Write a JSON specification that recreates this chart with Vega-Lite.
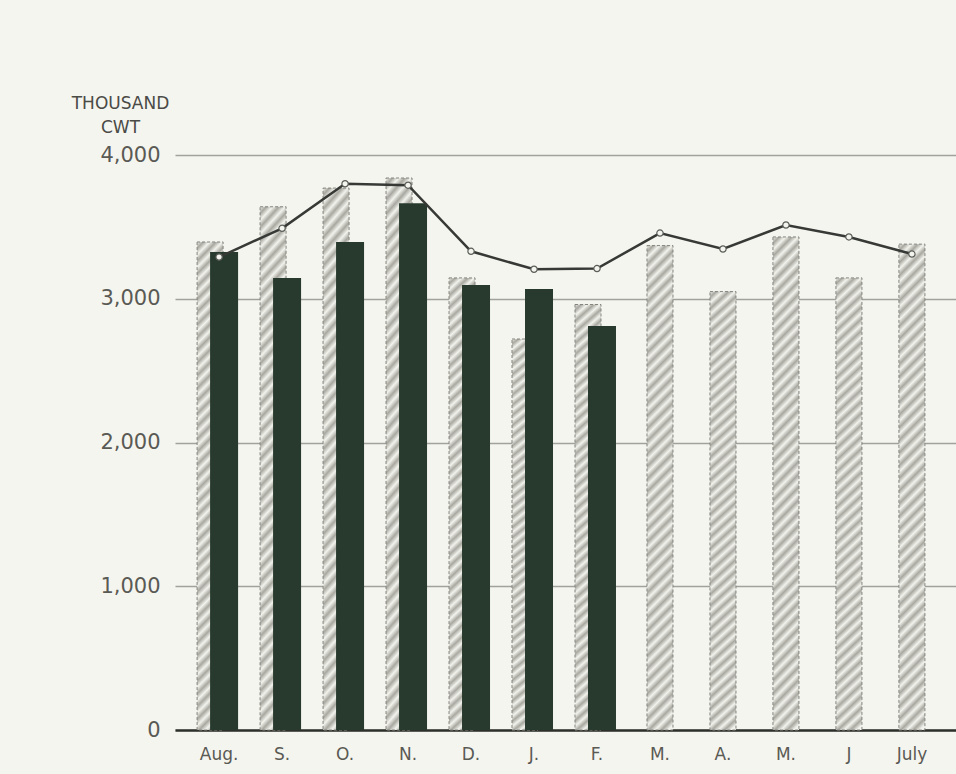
{
  "$schema": "https://vega.github.io/schema/vega-lite/v6.json",
  "width": 781,
  "height": 575,
  "autosize": {"type": "none"},
  "padding": {"left": 175, "top": 155, "right": 0, "bottom": 44},
  "background": "#f5f5ef",
  "config": {"view": {"stroke": null}},
  "data": {
    "values": [
      {"month": "Aug", "prev": 3395, "current": 3325, "avg": 3290},
      {"month": "Sep", "prev": 3640, "current": 3145, "avg": 3490},
      {"month": "Oct", "prev": 3770, "current": 3395, "avg": 3800},
      {"month": "Nov", "prev": 3840, "current": 3665, "avg": 3790},
      {"month": "Dec", "prev": 3145, "current": 3095, "avg": 3330},
      {"month": "Jan", "prev": 2720, "current": 3068, "avg": 3205},
      {"month": "Feb", "prev": 2960, "current": 2810, "avg": 3210},
      {"month": "Mar", "prev": 3370, "current": null, "avg": 3457},
      {"month": "Apr", "prev": 3050, "current": null, "avg": 3346},
      {"month": "May", "prev": 3430, "current": null, "avg": 3513},
      {"month": "Jun", "prev": 3145, "current": null, "avg": 3430},
      {"month": "Jul", "prev": 3380, "current": null, "avg": 3311}
    ]
  },
  "transform": [{"fold": ["prev", "current", "avg"], "as": ["series", "value"]}],
  "encoding": {
    "x": {
      "field": "month",
      "type": "nominal",
      "scale": {
        "domain": ["Aug", "Sep", "Oct", "Nov", "Dec", "Jan", "Feb", "Mar", "Apr", "May", "Jun", "Jul"],
        "paddingInner": 0,
        "paddingOuter": 0.2
      },
      "axis": {
        "title": null,
        "labelAngle": 0,
        "labelExpr": "{'Aug':'Aug.','Sep':'S.','Oct':'O.','Nov':'N.','Dec':'D.','Jan':'J.','Feb':'F.','Mar':'M.','Apr':'A.','May':'M.','Jun':'J','Jul':'July'}[datum.value]",
        "labelFont": "DejaVu Sans",
        "labelFontSize": 17,
        "labelColor": "#5a5a55",
        "labelPadding": 16,
        "ticks": false,
        "domain": true,
        "domainColor": "#2e302c",
        "domainWidth": 2.5,
        "grid": false
      }
    },
    "y": {
      "field": "value",
      "type": "quantitative",
      "scale": {"domain": [0, 4000], "nice": false},
      "axis": {
        "values": [0, 1000, 2000, 3000, 4000],
        "format": ",.0f",
        "title": ["THOUSAND", "CWT"],
        "titleAngle": 0,
        "titleAlign": "center",
        "titleBaseline": "top",
        "titleX": -55,
        "titleY": -60,
        "titleFont": "DejaVu Sans",
        "titleFontSize": 17,
        "titleFontWeight": "normal",
        "titleColor": "#4a4a46",
        "titleLineHeight": 24,
        "labelFont": "DejaVu Sans",
        "labelFontSize": 21,
        "labelColor": "#5a5a55",
        "labelPadding": 15,
        "ticks": false,
        "domain": false,
        "grid": true,
        "gridColor": "#a2a29c",
        "gridWidth": 1.3
      }
    }
  },
  "layer": [
    {
      "transform": [{"filter": "datum.series == 'prev' && datum.current != null"}],
      "mark": {
        "type": "bar",
        "width": 26,
        "xOffset": -9,
        "stroke": "#85857f",
        "strokeWidth": 1,
        "strokeDash": [3, 2],
        "fill": {
          "gradient": "linear",
          "x1": 0, "y1": 0, "x2": 0.056, "y2": 1.04,
          "stops": [
            {"offset": 0.0000, "color": "#f3f3ed"}, {"offset": 0.0125, "color": "#a8a8a1"},
            {"offset": 0.0250, "color": "#f3f3ed"}, {"offset": 0.0375, "color": "#a8a8a1"},
            {"offset": 0.0500, "color": "#f3f3ed"}, {"offset": 0.0625, "color": "#a8a8a1"},
            {"offset": 0.0750, "color": "#f3f3ed"}, {"offset": 0.0875, "color": "#a8a8a1"},
            {"offset": 0.1000, "color": "#f3f3ed"}, {"offset": 0.1125, "color": "#a8a8a1"},
            {"offset": 0.1250, "color": "#f3f3ed"}, {"offset": 0.1375, "color": "#a8a8a1"},
            {"offset": 0.1500, "color": "#f3f3ed"}, {"offset": 0.1625, "color": "#a8a8a1"},
            {"offset": 0.1750, "color": "#f3f3ed"}, {"offset": 0.1875, "color": "#a8a8a1"},
            {"offset": 0.2000, "color": "#f3f3ed"}, {"offset": 0.2125, "color": "#a8a8a1"},
            {"offset": 0.2250, "color": "#f3f3ed"}, {"offset": 0.2375, "color": "#a8a8a1"},
            {"offset": 0.2500, "color": "#f3f3ed"}, {"offset": 0.2625, "color": "#a8a8a1"},
            {"offset": 0.2750, "color": "#f3f3ed"}, {"offset": 0.2875, "color": "#a8a8a1"},
            {"offset": 0.3000, "color": "#f3f3ed"}, {"offset": 0.3125, "color": "#a8a8a1"},
            {"offset": 0.3250, "color": "#f3f3ed"}, {"offset": 0.3375, "color": "#a8a8a1"},
            {"offset": 0.3500, "color": "#f3f3ed"}, {"offset": 0.3625, "color": "#a8a8a1"},
            {"offset": 0.3750, "color": "#f3f3ed"}, {"offset": 0.3875, "color": "#a8a8a1"},
            {"offset": 0.4000, "color": "#f3f3ed"}, {"offset": 0.4125, "color": "#a8a8a1"},
            {"offset": 0.4250, "color": "#f3f3ed"}, {"offset": 0.4375, "color": "#a8a8a1"},
            {"offset": 0.4500, "color": "#f3f3ed"}, {"offset": 0.4625, "color": "#a8a8a1"},
            {"offset": 0.4750, "color": "#f3f3ed"}, {"offset": 0.4875, "color": "#a8a8a1"},
            {"offset": 0.5000, "color": "#f3f3ed"}, {"offset": 0.5125, "color": "#a8a8a1"},
            {"offset": 0.5250, "color": "#f3f3ed"}, {"offset": 0.5375, "color": "#a8a8a1"},
            {"offset": 0.5500, "color": "#f3f3ed"}, {"offset": 0.5625, "color": "#a8a8a1"},
            {"offset": 0.5750, "color": "#f3f3ed"}, {"offset": 0.5875, "color": "#a8a8a1"},
            {"offset": 0.6000, "color": "#f3f3ed"}, {"offset": 0.6125, "color": "#a8a8a1"},
            {"offset": 0.6250, "color": "#f3f3ed"}, {"offset": 0.6375, "color": "#a8a8a1"},
            {"offset": 0.6500, "color": "#f3f3ed"}, {"offset": 0.6625, "color": "#a8a8a1"},
            {"offset": 0.6750, "color": "#f3f3ed"}, {"offset": 0.6875, "color": "#a8a8a1"},
            {"offset": 0.7000, "color": "#f3f3ed"}, {"offset": 0.7125, "color": "#a8a8a1"},
            {"offset": 0.7250, "color": "#f3f3ed"}, {"offset": 0.7375, "color": "#a8a8a1"},
            {"offset": 0.7500, "color": "#f3f3ed"}, {"offset": 0.7625, "color": "#a8a8a1"},
            {"offset": 0.7750, "color": "#f3f3ed"}, {"offset": 0.7875, "color": "#a8a8a1"},
            {"offset": 0.8000, "color": "#f3f3ed"}, {"offset": 0.8125, "color": "#a8a8a1"},
            {"offset": 0.8250, "color": "#f3f3ed"}, {"offset": 0.8375, "color": "#a8a8a1"},
            {"offset": 0.8500, "color": "#f3f3ed"}, {"offset": 0.8625, "color": "#a8a8a1"},
            {"offset": 0.8750, "color": "#f3f3ed"}, {"offset": 0.8875, "color": "#a8a8a1"},
            {"offset": 0.9000, "color": "#f3f3ed"}, {"offset": 0.9125, "color": "#a8a8a1"},
            {"offset": 0.9250, "color": "#f3f3ed"}, {"offset": 0.9375, "color": "#a8a8a1"},
            {"offset": 0.9500, "color": "#f3f3ed"}, {"offset": 0.9625, "color": "#a8a8a1"},
            {"offset": 0.9750, "color": "#f3f3ed"}, {"offset": 0.9875, "color": "#a8a8a1"},
            {"offset": 1.0000, "color": "#f3f3ed"}
          ]
        }
      }
    },
    {
      "transform": [{"filter": "datum.series == 'prev' && datum.current == null"}],
      "mark": {
        "type": "bar",
        "width": 26,
        "xOffset": 0,
        "stroke": "#85857f",
        "strokeWidth": 1,
        "strokeDash": [3, 2],
        "fill": {
          "gradient": "linear",
          "x1": 0, "y1": 0, "x2": 0.056, "y2": 1.04,
          "stops": [
            {"offset": 0.0000, "color": "#f3f3ed"}, {"offset": 0.0125, "color": "#a8a8a1"},
            {"offset": 0.0250, "color": "#f3f3ed"}, {"offset": 0.0375, "color": "#a8a8a1"},
            {"offset": 0.0500, "color": "#f3f3ed"}, {"offset": 0.0625, "color": "#a8a8a1"},
            {"offset": 0.0750, "color": "#f3f3ed"}, {"offset": 0.0875, "color": "#a8a8a1"},
            {"offset": 0.1000, "color": "#f3f3ed"}, {"offset": 0.1125, "color": "#a8a8a1"},
            {"offset": 0.1250, "color": "#f3f3ed"}, {"offset": 0.1375, "color": "#a8a8a1"},
            {"offset": 0.1500, "color": "#f3f3ed"}, {"offset": 0.1625, "color": "#a8a8a1"},
            {"offset": 0.1750, "color": "#f3f3ed"}, {"offset": 0.1875, "color": "#a8a8a1"},
            {"offset": 0.2000, "color": "#f3f3ed"}, {"offset": 0.2125, "color": "#a8a8a1"},
            {"offset": 0.2250, "color": "#f3f3ed"}, {"offset": 0.2375, "color": "#a8a8a1"},
            {"offset": 0.2500, "color": "#f3f3ed"}, {"offset": 0.2625, "color": "#a8a8a1"},
            {"offset": 0.2750, "color": "#f3f3ed"}, {"offset": 0.2875, "color": "#a8a8a1"},
            {"offset": 0.3000, "color": "#f3f3ed"}, {"offset": 0.3125, "color": "#a8a8a1"},
            {"offset": 0.3250, "color": "#f3f3ed"}, {"offset": 0.3375, "color": "#a8a8a1"},
            {"offset": 0.3500, "color": "#f3f3ed"}, {"offset": 0.3625, "color": "#a8a8a1"},
            {"offset": 0.3750, "color": "#f3f3ed"}, {"offset": 0.3875, "color": "#a8a8a1"},
            {"offset": 0.4000, "color": "#f3f3ed"}, {"offset": 0.4125, "color": "#a8a8a1"},
            {"offset": 0.4250, "color": "#f3f3ed"}, {"offset": 0.4375, "color": "#a8a8a1"},
            {"offset": 0.4500, "color": "#f3f3ed"}, {"offset": 0.4625, "color": "#a8a8a1"},
            {"offset": 0.4750, "color": "#f3f3ed"}, {"offset": 0.4875, "color": "#a8a8a1"},
            {"offset": 0.5000, "color": "#f3f3ed"}, {"offset": 0.5125, "color": "#a8a8a1"},
            {"offset": 0.5250, "color": "#f3f3ed"}, {"offset": 0.5375, "color": "#a8a8a1"},
            {"offset": 0.5500, "color": "#f3f3ed"}, {"offset": 0.5625, "color": "#a8a8a1"},
            {"offset": 0.5750, "color": "#f3f3ed"}, {"offset": 0.5875, "color": "#a8a8a1"},
            {"offset": 0.6000, "color": "#f3f3ed"}, {"offset": 0.6125, "color": "#a8a8a1"},
            {"offset": 0.6250, "color": "#f3f3ed"}, {"offset": 0.6375, "color": "#a8a8a1"},
            {"offset": 0.6500, "color": "#f3f3ed"}, {"offset": 0.6625, "color": "#a8a8a1"},
            {"offset": 0.6750, "color": "#f3f3ed"}, {"offset": 0.6875, "color": "#a8a8a1"},
            {"offset": 0.7000, "color": "#f3f3ed"}, {"offset": 0.7125, "color": "#a8a8a1"},
            {"offset": 0.7250, "color": "#f3f3ed"}, {"offset": 0.7375, "color": "#a8a8a1"},
            {"offset": 0.7500, "color": "#f3f3ed"}, {"offset": 0.7625, "color": "#a8a8a1"},
            {"offset": 0.7750, "color": "#f3f3ed"}, {"offset": 0.7875, "color": "#a8a8a1"},
            {"offset": 0.8000, "color": "#f3f3ed"}, {"offset": 0.8125, "color": "#a8a8a1"},
            {"offset": 0.8250, "color": "#f3f3ed"}, {"offset": 0.8375, "color": "#a8a8a1"},
            {"offset": 0.8500, "color": "#f3f3ed"}, {"offset": 0.8625, "color": "#a8a8a1"},
            {"offset": 0.8750, "color": "#f3f3ed"}, {"offset": 0.8875, "color": "#a8a8a1"},
            {"offset": 0.9000, "color": "#f3f3ed"}, {"offset": 0.9125, "color": "#a8a8a1"},
            {"offset": 0.9250, "color": "#f3f3ed"}, {"offset": 0.9375, "color": "#a8a8a1"},
            {"offset": 0.9500, "color": "#f3f3ed"}, {"offset": 0.9625, "color": "#a8a8a1"},
            {"offset": 0.9750, "color": "#f3f3ed"}, {"offset": 0.9875, "color": "#a8a8a1"},
            {"offset": 1.0000, "color": "#f3f3ed"}
          ]
        }
      }
    },
    {
      "transform": [{"filter": "datum.series == 'current' && datum.value != null"}],
      "mark": {"type": "bar", "width": 28, "xOffset": 5, "fill": "#283a2d"}
    },
    {
      "transform": [{"filter": "datum.series == 'avg'"}],
      "mark": {
        "type": "line",
        "color": "#363935",
        "strokeWidth": 2.5,
        "point": {"filled": true, "fill": "#f3f4ee", "stroke": "#5a5d58", "strokeWidth": 1.2, "size": 40}
      }
    }
  ]
}
